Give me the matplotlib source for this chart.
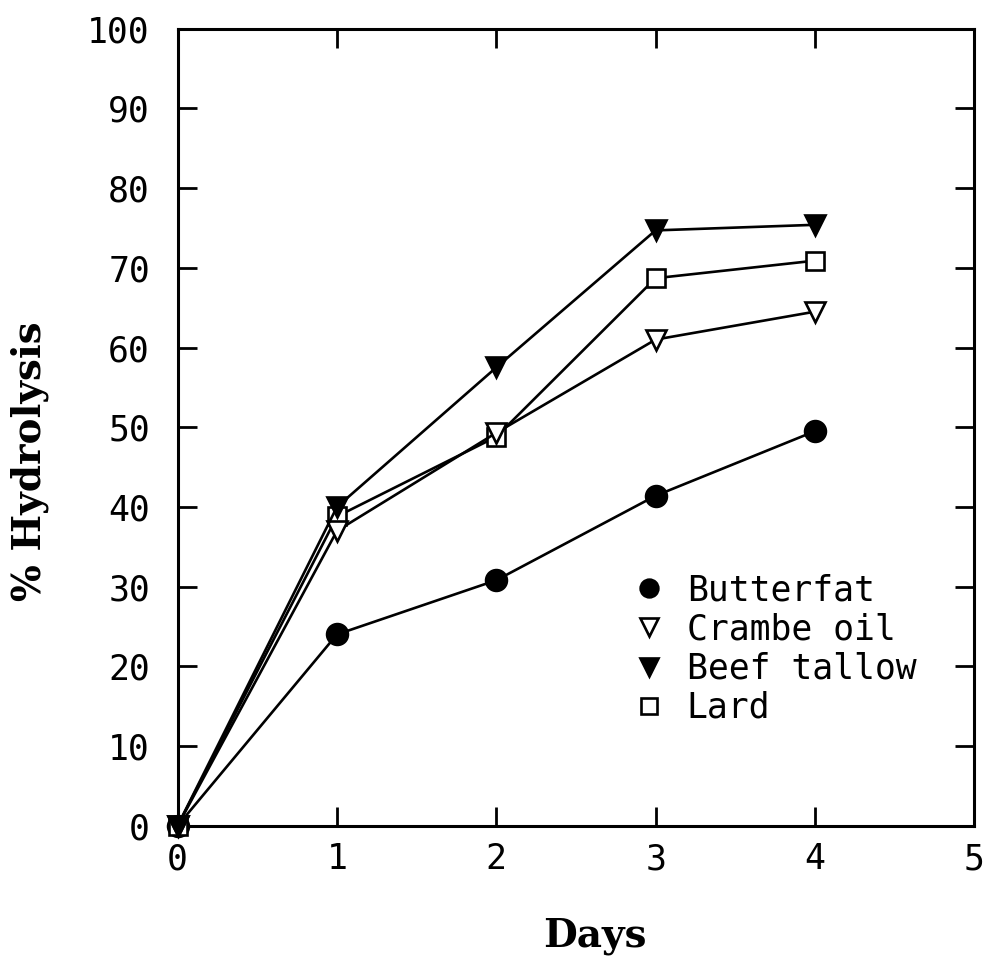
import numpy as np
import matplotlib.pyplot as plt

days = [0, 1, 2, 3, 4]
butterfat = [0, 24.0, 30.8, 41.4, 49.5]
crambe_oil = [0, 37.0, 49.3, 61.0, 64.5]
beef_tallow = [0, 40.0, 57.5, 74.7, 75.4]
lard = [0, 38.8, 48.8, 68.7, 70.9]

tick_font = "DejaVu Sans Mono"
label_font = "DejaVu Serif"

fig = plt.figure(figsize=(9.87, 9.59), dpi=100)
ax = fig.add_axes([0.180, 0.139, 0.807, 0.831])

common = dict(color="black", lw=1.9, mew=1.9, clip_on=False)
ax.plot(days, butterfat, marker="o", ms=15, mfc="black", label="Butterfat", zorder=3, **common)
ax.plot(days, lard, marker="s", ms=13, mfc="white", label="Lard", zorder=4, **common)
ax.plot(days, crambe_oil, marker="v", ms=15, mfc="white", label="Crambe oil", zorder=5, **common)
ax.plot(days, beef_tallow, marker="v", ms=15, mfc="black", label="Beef tallow", zorder=6, **common)

ax.set_xlim(0, 5)
ax.set_ylim(0, 100)
ax.set_xticks(range(0, 6))
ax.set_yticks(range(0, 101, 10))
ax.tick_params(direction="in", length=14, width=2, top=True, right=True)
ax.tick_params(axis="y", pad=20)
ax.tick_params(axis="x", pad=12)
for lbl in ax.get_xticklabels() + ax.get_yticklabels():
    lbl.set_fontfamily(tick_font)
    lbl.set_fontsize(25)
for s in ax.spines.values():
    s.set_linewidth(2.2)

ax.set_xlabel("Days", fontsize=28, fontfamily=label_font, fontweight="bold")
ax.set_ylabel("% Hydrolysis", fontsize=28, fontfamily=label_font, fontweight="bold")
ax.xaxis.set_label_coords(0.524, -0.139)
ax.yaxis.set_label_coords(-0.186, 0.457)
ax.xaxis.label.set_va("center")
ax.yaxis.label.set_va("center")

handles, labels = ax.get_legend_handles_labels()
order = [labels.index(n) for n in ["Butterfat", "Crambe oil", "Beef tallow", "Lard"]]
leg = ax.legend([handles[i] for i in order], [labels[i] for i in order],
                loc="upper left", bbox_to_anchor=(0.552, 0.356), frameon=False,
                handlelength=0, handletextpad=1.1, labelspacing=0.15,
                markerscale=0.85, prop={"family": tick_font, "size": 25})
for line in leg.get_lines():
    line.set_linestyle("none")

fig.savefig("out.png", dpi=100)
